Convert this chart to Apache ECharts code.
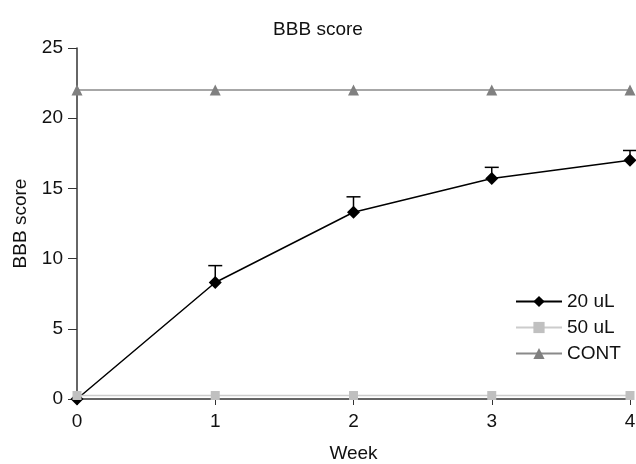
<!DOCTYPE html>
<html>
<head>
<meta charset="utf-8">
<script src="https://cdn.jsdelivr.net/npm/echarts@6/dist/echarts.min.js"></script>
<style>
  html, body { margin: 0; padding: 0; background: #fff; }
  #chart { width: 636px; height: 464px; }
</style>
</head>
<body>
<div id="chart"></div>
<script>
// data
const weeks = [0, 1, 2, 3, 4]
const ul20 = [0, 8.3, 13.3, 15.7, 17.0]
const ul20Err = [0, 1.2, 1.1, 0.8, 0.7]
const ul50 = [0.25, 0.25, 0.25, 0.25, 0.25]
const cont = [22, 22, 22, 22, 22]

const pairs = vals => weeks.map((w, i) => [w, vals[i]])
const font = 'Liberation Sans, Arial, sans-serif'
const fs = 19

const chart = echarts.init(document.getElementById('chart'))
chart.setOption({
  animation: false,
  title: {
    text: 'BBB score', left: 'center', top: 15,
    textStyle: { fontFamily: font, fontSize: fs, fontWeight: 'normal', color: '#111' }
  },
  grid: { left: 77, right: 6, top: 48, bottom: 65, outerBoundsMode: 'none', containLabel: false },
  legend: {
    orient: 'vertical', left: 510, top: 287,
    itemWidth: 46, itemHeight: 14, itemGap: 7,
    data: ['20 uL', '50 uL', 'CONT'],
    textStyle: { fontFamily: font, fontSize: fs, color: '#111' }
  },
  xAxis: {
    type: 'value', min: 0, max: 4, interval: 1,
    name: 'Week', nameLocation: 'middle', nameGap: 45,
    nameTextStyle: { fontFamily: font, fontSize: fs, color: '#111' },
    axisLine: { onZero: false, lineStyle: { color: '#333', width: 1.5 } },
    axisTick: { show: true, length: 6, lineStyle: { color: '#333' } },
    axisLabel: { fontFamily: font, fontSize: fs, color: '#111', margin: 13 },
    splitLine: { show: false }
  },
  yAxis: {
    type: 'value', min: 0, max: 25, interval: 5,
    name: 'BBB score', nameLocation: 'middle', nameGap: 47,
    nameTextStyle: { fontFamily: font, fontSize: fs, color: '#111' },
    axisLine: { show: true, onZero: false, lineStyle: { color: '#333', width: 1.5 } },
    axisTick: { show: true, length: 9, lineStyle: { color: '#333' } },
    axisLabel: { fontFamily: font, fontSize: fs, color: '#111', margin: 14 },
    splitLine: { show: false }
  },
  series: [
    {
      name: 'CONT', type: 'line', data: pairs(cont),
      symbol: 'triangle', symbolSize: 11,
      lineStyle: { color: '#8a8a8a', width: 1.5 },
      itemStyle: { color: '#808080' }
    },
    {
      name: 'err', type: 'custom', z: 3,
      data: weeks.map((w, i) => [w, ul20[i], ul20Err[i]]),
      renderItem(params, api) {
        const x = api.value(0), y = api.value(1), e = api.value(2)
        if (!e) return null
        const p0 = api.coord([x, y])
        const p1 = api.coord([x, y + e])
        const style = { stroke: '#000', lineWidth: 1.5 }
        return {
          type: 'group',
          children: [
            { type: 'line', shape: { x1: p0[0], y1: p0[1], x2: p1[0], y2: p1[1] }, style },
            { type: 'line', shape: { x1: p1[0] - 7, y1: p1[1], x2: p1[0] + 7, y2: p1[1] }, style }
          ]
        }
      }
    },
    {
      name: '20 uL', type: 'line', data: pairs(ul20), z: 4,
      symbol: 'diamond', symbolSize: 13,
      lineStyle: { color: '#000', width: 1.5 },
      itemStyle: { color: '#000' }
    },
    {
      name: '50 uL', type: 'line', data: pairs(ul50), z: 5,
      symbol: 'rect', symbolSize: 9,
      lineStyle: { color: '#cccccc', width: 1.5 },
      itemStyle: { color: '#c0c0c0' }
    }
  ]
})
</script>
</body>
</html>
